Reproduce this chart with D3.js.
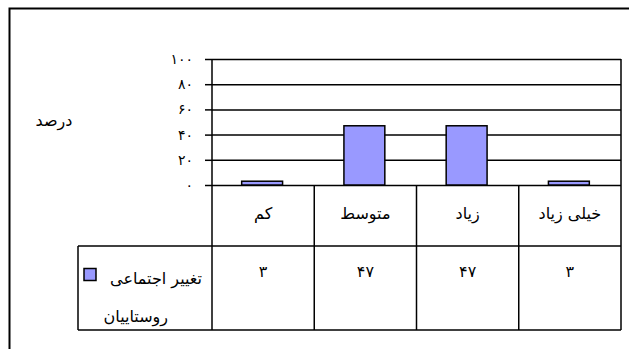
<!DOCTYPE html>
<html>
<head>
<meta charset="utf-8">
<script src="https://cdn.jsdelivr.net/npm/d3@7"></script>
<style>
  body { margin: 0; background: #fff; }
  svg text { font-family: "DejaVu Sans", sans-serif; fill: #000; }
</style>
</head>
<body>
<script>
// data
var categories = ["کم", "متوسط", "زیاد", "خیلی زیاد"];
var values = [3, 47, 47, 3];
var yTicks = [0, 20, 40, 60, 80, 100];
var seriesName = ["تغییر اجتماعی", "روستاییان"];
var yLabel = "درصد";

var W = 629, H = 349;
var plotLeft = 212, plotRight = 621, plotTop = 59, plotBottom = 185;
var headBottom = 246, tableBottom = 330, legendLeft = 78;

function fa(n) {
  return String(n).replace(/[0-9]/g, function (d) { return "۰۱۲۳۴۵۶۷۸۹"[+d]; });
}

var svg = d3.select("body").append("svg")
    .attr("width", W).attr("height", H);

// outer chart border
svg.append("rect")
    .attr("x", 9.5).attr("y", 8.5)
    .attr("width", 700).attr("height", 500)
    .attr("fill", "none").attr("stroke", "#000").attr("stroke-width", 2);

var x = d3.scaleBand().domain(categories).range([plotLeft, plotRight]).padding(0);
var xBar = d3.scaleBand().domain(categories).range([plotLeft, plotRight]).paddingInner(0.6).paddingOuter(0.3);
var y = d3.scaleLinear().domain([0, 100]).range([plotBottom, plotTop]);

// gridlines + ticks
var yAxis = svg.append("g")
    .attr("transform", "translate(" + plotLeft + ",0)")
    .call(d3.axisLeft(y).tickValues(yTicks).tickSizeInner(-(plotRight - plotLeft)).tickSizeOuter(0).tickPadding(19).tickFormat(fa));
yAxis.select(".domain").remove();
yAxis.selectAll(".tick line").attr("stroke", "#000").attr("stroke-width", 1.5);
yAxis.selectAll(".tick").append("line")
    .attr("x1", -7).attr("x2", 0)
    .attr("stroke", "#000").attr("stroke-width", 1.5);
yAxis.selectAll(".tick text").attr("font-size", 14).attr("fill", "#000")
    .attr("font-family", "DejaVu Sans, sans-serif");

svg.append("text")
    .attr("x", 54).attr("y", 126)
    .attr("text-anchor", "middle").attr("font-size", 16)
    .text(yLabel);

// bars
svg.selectAll(".bar").data(values).enter().append("rect")
    .attr("class", "bar")
    .attr("x", function (d, i) { return xBar(categories[i]) - 1; })
    .attr("width", xBar.bandwidth())
    .attr("y", function (d) { return y(d); })
    .attr("height", function (d) { return y(0) - y(d); })
    .attr("fill", "#9999FF").attr("stroke", "#000").attr("stroke-width", 1.5);

// data table lines
var lines = svg.append("g").attr("stroke", "#000").attr("stroke-width", 1.5);
lines.append("line").attr("x1", plotLeft).attr("x2", plotLeft).attr("y1", plotTop).attr("y2", tableBottom);
lines.append("line").attr("x1", plotRight).attr("x2", plotRight).attr("y1", plotTop).attr("y2", tableBottom);
lines.selectAll(".col").data(categories.slice(1)).enter().append("line")
    .attr("x1", function (c) { return x(c); }).attr("x2", function (c) { return x(c); })
    .attr("y1", plotBottom).attr("y2", tableBottom);
lines.append("line").attr("x1", legendLeft).attr("x2", plotRight).attr("y1", headBottom).attr("y2", headBottom);
lines.append("line").attr("x1", legendLeft).attr("x2", plotRight).attr("y1", tableBottom).attr("y2", tableBottom);
lines.append("line").attr("x1", legendLeft).attr("x2", legendLeft).attr("y1", headBottom).attr("y2", tableBottom);

// category headers
svg.selectAll(".cat").data(categories).enter().append("text")
    .attr("x", function (c) { return x(c) + x.bandwidth() / 2; })
    .attr("y", 219)
    .attr("text-anchor", "middle").attr("font-size", 16)
    .text(function (c) { return c; });

// values row
svg.selectAll(".val").data(values).enter().append("text")
    .attr("x", function (d, i) { return x(categories[i]) + x.bandwidth() / 2; })
    .attr("y", 277)
    .attr("text-anchor", "middle").attr("font-size", 16)
    .text(function (d) { return fa(d); });

// legend cell
svg.append("rect")
    .attr("x", 84).attr("y", 268.5).attr("width", 12).attr("height", 12)
    .attr("fill", "#9999FF").attr("stroke", "#000").attr("stroke-width", 1.5);
svg.append("text")
    .attr("x", 202).attr("y", 284)
    .attr("text-anchor", "end").attr("font-size", 16)
    .text(seriesName[0]);
svg.append("text")
    .attr("x", 168).attr("y", 322)
    .attr("text-anchor", "end").attr("font-size", 16)
    .text(seriesName[1]);
</script>
</body>
</html>
